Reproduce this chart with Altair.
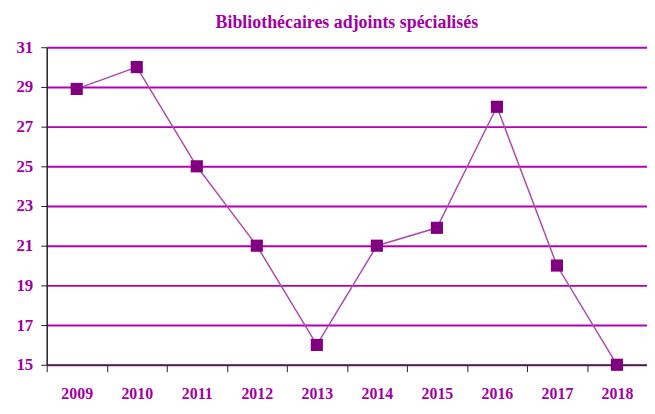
import altair as alt
import pandas as pd

years = ["2009", "2010", "2011", "2012", "2013", "2014", "2015", "2016", "2017", "2018"]
values = [28.9, 30, 25, 21, 16, 21, 21.9, 28, 20, 15]
y_ticks = [15, 17, 19, 21, 23, 25, 27, 29, 31]
title_text = "Bibliothécaires adjoints spécialisés"

df = pd.DataFrame({"year": years, "value": values})

FONT = "Liberation Serif"
TEXT_COLOR = "#A300A3"

x_enc = alt.X(
    "year:O",
    scale=alt.Scale(paddingInner=0, paddingOuter=0),
    axis=alt.Axis(
        title=None,
        labelAngle=0,
        labelFont=FONT,
        labelFontSize=16,
        labelFontWeight="bold",
        labelColor=TEXT_COLOR,
        labelPadding=14,
        labelOverlap=False,
        tickBand="extent",
        ticks=True,
        tickSize=7,
        tickColor="#222222",
        domainColor="#333333",
        domainWidth=1.5,
        grid=False,
    ),
)
y_enc = alt.Y(
    "value:Q",
    scale=alt.Scale(domain=[15, 31], nice=False, zero=False),
    axis=alt.Axis(
        title=None,
        values=y_ticks,
        tickCount=9,
        labelFont=FONT,
        labelFontSize=17,
        labelFontWeight="bold",
        labelColor=TEXT_COLOR,
        labelPadding=8,
        labelOverlap=False,
        labelFlush=False,
        tickSize=6,
        tickColor="#222222",
        domainColor="#222222",
        domainWidth=1.5,
        grid=True,
        gridColor="#B400B4",
        gridWidth=2,
    ),
)

base = alt.Chart(df).encode(x=x_enc, y=y_enc)
line = base.mark_line(color="#AC4CAC", strokeWidth=1.5)
pts = base.mark_square(color="#800080", size=150, opacity=1)

chart = (
    alt.layer(line, pts)
    .properties(
        width=605,
        height=320,
        autosize=alt.AutoSizeParams(type="none"),
        padding={"left": 39, "top": 38, "right": 0, "bottom": 40},
        title=alt.TitleParams(
            text=title_text,
            font=FONT,
            fontSize=18,
            fontWeight="bold",
            color=TEXT_COLOR,
            anchor="middle",
            offset=6,
        ),
    )
    .configure_view(stroke=None)
)

chart.save("out.html", embed_options={"renderer": "svg", "actions": False})
